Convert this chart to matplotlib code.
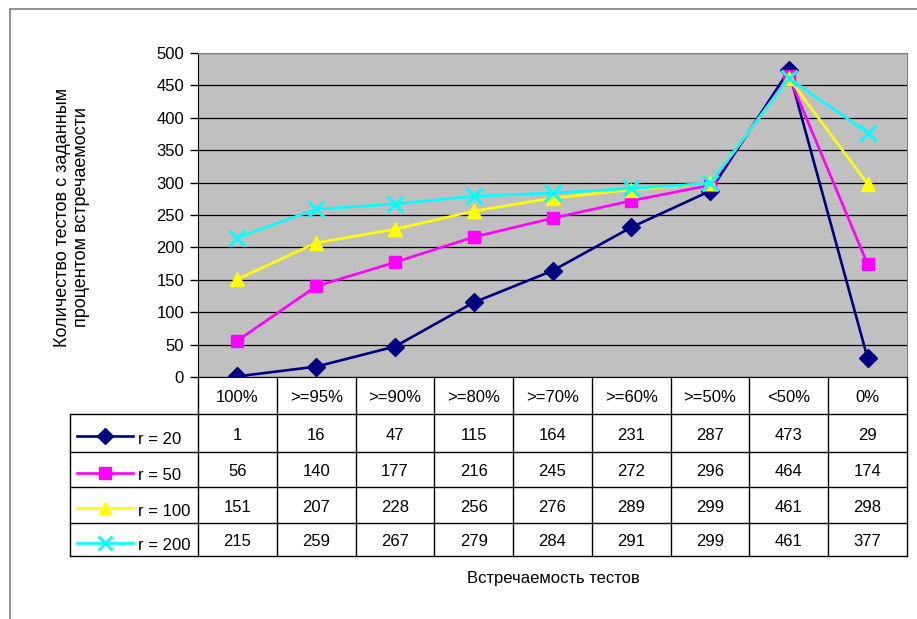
import matplotlib.pyplot as plt
from matplotlib.lines import Line2D
from matplotlib.patches import Rectangle

plt.rcParams['font.family'] = ['Liberation Sans', 'DejaVu Sans']

# Данные
categories = ['100%', '>=95%', '>=90%', '>=80%', '>=70%', '>=60%', '>=50%', '<50%', '0%']
series_names = ['r = 20', 'r = 50', 'r = 100', 'r = 200']
r20 = [1, 16, 47, 115, 164, 231, 287, 473, 29]
r50 = [56, 140, 177, 216, 245, 272, 296, 464, 174]
r100 = [151, 207, 228, 256, 276, 289, 299, 461, 298]
r200 = [215, 259, 267, 279, 284, 291, 299, 461, 377]
y_ticks = list(range(0, 501, 50))

series = [r20, r50, r100, r200]
colors = ['#000080', '#FF00FF', '#FFFF00', '#00FFFF']
markers = ['D', 's', '^', 'x']
msizes = [9, 9, 10, 11]

W, H = 917, 619
fig = plt.figure(figsize=(W / 100, H / 100), dpi=100)

def fx(px):
    return px / W

def fy(py):
    return 1 - py / H

# рамка диаграммы
fig.patches.append(Rectangle((fx(10), fy(700)), fx(1000), (700 - 9) / H,
                             transform=fig.transFigure, fill=False,
                             edgecolor='#808080', lw=1.2))

# область построения
left, right, top, bottom = 198, 907, 53, 377
ax = fig.add_axes([fx(left), fy(bottom), fx(right - left), (bottom - top) / H])
ax.set_facecolor('#C0C0C0')
for i, vals in enumerate(series):
    ax.plot(range(len(categories)), vals, color=colors[i], marker=markers[i],
            markersize=msizes[i], lw=1.9, mew=2.2 if markers[i] == 'x' else 1,
            zorder=3 + i)
ax.set_xlim(-0.5, len(categories) - 0.5)
ax.set_ylim(0, 500)
ax.set_yticks(y_ticks)
ax.set_xticks([])
ax.grid(axis='y', color='black', lw=0.9)
ax.set_axisbelow(True)
ax.tick_params(axis='y', direction='out', length=6, width=1, labelsize=12, pad=4)
ax.spines['left'].set_color('black')
ax.spines['bottom'].set_color('black')
ax.spines['top'].set_color('#808080')
ax.spines['right'].set_color('#808080')

# таблица данных
ncol = len(categories)
cw = (right - left) / ncol
row_lines = [377, 414, 452, 487, 523, 556]
tleft = 70
lc = 'black'

def hline(y, x0, x1):
    fig.add_artist(Line2D([fx(x0), fx(x1)], [fy(y), fy(y)], color=lc, lw=1,
                          transform=fig.transFigure))

def vline(x, y0, y1):
    fig.add_artist(Line2D([fx(x), fx(x)], [fy(y0), fy(y1)], color=lc, lw=1,
                          transform=fig.transFigure))

for y in row_lines[1:]:
    hline(y, tleft, right)
for j in range(ncol + 1):
    vline(left + j * cw, row_lines[0], row_lines[-1])
vline(tleft, row_lines[1], row_lines[-1])

for j, c in enumerate(categories):
    fig.text(fx(left + (j + 0.5) * cw), fy((row_lines[0] + row_lines[1]) / 2 + 2), c,
             ha='center', va='center', fontsize=12)

for i, vals in enumerate(series):
    yc = (row_lines[i + 1] + row_lines[i + 2]) / 2
    for j, v in enumerate(vals):
        fig.text(fx(left + (j + 0.5) * cw), fy(yc + 2), str(v),
                 ha='center', va='center', fontsize=12)
    # ключ легенды
    fig.add_artist(Line2D([fx(77), fx(133)], [fy(yc + 3), fy(yc + 3)], color=colors[i],
                          lw=1.9, transform=fig.transFigure))
    fig.add_artist(Line2D([fx(105)], [fy(yc + 3)], color=colors[i], marker=markers[i],
                          markersize=msizes[i] - 1, mew=2 if markers[i] == 'x' else 1,
                          transform=fig.transFigure))
    fig.text(fx(138), fy(yc + 6), series_names[i], ha='left', va='center', fontsize=12)

# подписи осей
fig.text(fx(72), fy(217), 'Количество тестов с заданным\nпроцентом встречаемости',
         rotation=90, ha='center', va='center', fontsize=13, linespacing=1.15)
fig.text(fx(553), fy(578), 'Встречаемость тестов', ha='center', va='center', fontsize=12)

fig.savefig('out.png', dpi=100)
